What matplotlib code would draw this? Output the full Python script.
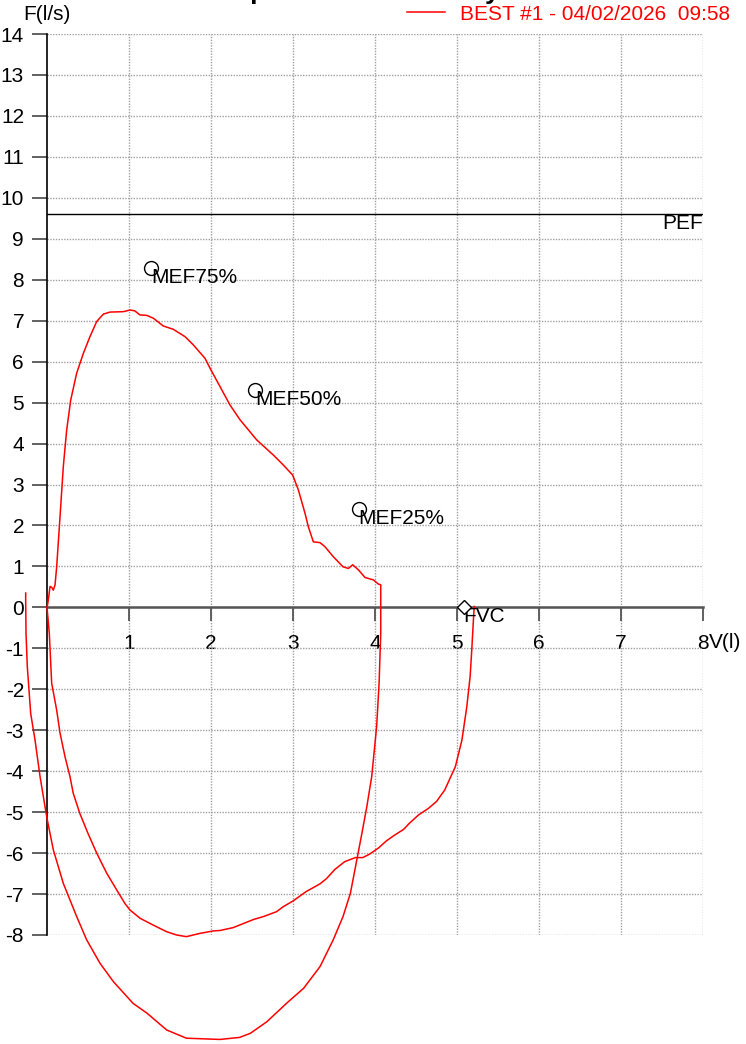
import matplotlib
matplotlib.use('Agg')
import matplotlib.pyplot as plt

plt.rcParams['font.family'] = ['Liberation Sans', 'DejaVu Sans']
plt.rcParams['axes.unicode_minus'] = False

# best manoeuvre: expiration then inspiration (volume l, flow l/s)
loop_vol = [0.0, 0.016, 0.037, 0.057, 0.077, 0.098, 0.118, 0.159, 0.199, 0.24, 0.289, 0.362,
            0.443, 0.524, 0.606, 0.687, 0.768, 0.93, 1.012, 1.07, 1.134, 1.216, 1.297, 1.418,
            1.54, 1.683, 1.784, 1.927, 1.988, 2.11, 2.232, 2.354, 2.557, 2.76, 2.88, 2.996,
            3.065, 3.146, 3.187, 3.248, 3.33, 3.39, 3.49, 3.61, 3.675, 3.728, 3.80, 3.878,
            3.98, 4.04, 4.07,
            4.07, 4.07, 4.05, 4.02, 3.96, 3.90, 3.84, 3.77, 3.70, 3.61, 3.49, 3.33, 3.13,
            2.92, 2.68, 2.48, 2.35, 2.11, 1.70, 1.46, 1.22, 1.05, 0.81, 0.646, 0.484, 0.362,
            0.199, 0.077, -0.004, -0.085, -0.146, -0.199, -0.24, -0.256, -0.26, -0.26]
loop_flow = [-0.02, 0.18, 0.51, 0.49, 0.42, 0.55, 0.99, 2.22, 3.44, 4.33, 5.06, 5.72,
             6.2, 6.61, 6.98, 7.16, 7.21, 7.22, 7.26, 7.24, 7.14, 7.13, 7.06, 6.87,
             6.79, 6.61, 6.41, 6.08, 5.84, 5.39, 4.94, 4.58, 4.09, 3.72, 3.48, 3.23,
             2.87, 2.30, 1.97, 1.60, 1.58, 1.48, 1.24, 0.99, 0.95, 1.04, 0.91, 0.73,
             0.67, 0.57, 0.55,
             0.18, -0.63, -1.85, -2.91, -4.13, -4.87, -5.52, -6.25, -6.98, -7.55, -8.12, -8.77, -9.30,
             -9.67, -10.12, -10.40, -10.50, -10.55, -10.52, -10.32, -9.91, -9.67, -9.14, -8.69, -8.12, -7.55,
             -6.74, -5.92, -5.11, -4.13, -3.24, -2.59, -1.45, -0.63, 0.18, 0.35]

# inspiration before the manoeuvre
pre_vol = [0.0, 0.028, 0.057, 0.118, 0.159, 0.22, 0.28, 0.32, 0.40, 0.50, 0.606, 0.728,
           0.85, 0.95, 1.012, 1.134, 1.297, 1.46, 1.58, 1.70, 1.866, 2.03, 2.11, 2.27,
           2.52, 2.64, 2.80, 2.88, 3.0, 3.16, 3.33, 3.41, 3.51, 3.63, 3.76, 3.85, 3.93,
           4.04, 4.14, 4.24, 4.35, 4.41, 4.53, 4.65, 4.75, 4.85, 4.98, 5.06, 5.12, 5.16,
           5.18, 5.20, 5.21]
pre_flow = [0.0, -0.63, -1.85, -2.51, -3.07, -3.65, -4.13, -4.54, -5.03, -5.52, -6.0, -6.49,
            -6.90, -7.23, -7.39, -7.59, -7.76, -7.92, -8.0, -8.04, -7.96, -7.90, -7.89, -7.82,
            -7.62, -7.55, -7.43, -7.31, -7.17, -6.94, -6.75, -6.62, -6.40, -6.21, -6.11, -6.11, -6.03,
            -5.88, -5.70, -5.56, -5.42, -5.29, -5.07, -4.91, -4.74, -4.46, -3.89, -3.24, -2.42, -1.69,
            -1.04, -0.31, 0.02]

mef_names = ['MEF75%', 'MEF50%', 'MEF25%']
mef_vol = [1.27, 2.54, 3.80]
mef_flow = [8.29, 5.31, 2.40]
fvc = 5.08
pef = 9.61
legend_label = 'BEST #1 - 04/02/2026  09:58'
title_text = 'Flow/Volume plot for the Best Try'

W, H = 746, 1044
fig = plt.figure(figsize=(W / 100, H / 100), dpi=100)
ax = fig.add_axes([47 / W, 1 - 935 / H, 656 / W, 901 / H])
ax.set_xlim(0, 8)
ax.set_ylim(-8, 14)

ax.set_xticks(range(1, 9))
ax.set_xticklabels([str(i) for i in range(1, 9)])
ax.set_yticks(range(-8, 15))
ax.set_yticklabels([str(i) for i in range(-8, 15)])
ax.grid(True, color='#a0a0a0', linestyle=(0, (1, 1)), linewidth=1.0)
ax.set_axisbelow(True)

for s in ['top', 'right']:
    ax.spines[s].set_visible(False)
ax.spines['left'].set_color('black')
ax.spines['left'].set_linewidth(1.2)
ax.spines['bottom'].set_position(('data', 0))
ax.spines['bottom'].set_color('#555555')
ax.spines['bottom'].set_linewidth(1.8)
ax.spines['bottom'].set_zorder(1.5)

ax.tick_params(axis='y', direction='out', length=11, width=1.3, color='#555555', pad=5.5, labelsize=15)
ax.tick_params(axis='x', direction='out', length=10, width=1.3, color='#555555', pad=9, labelsize=15)

ax.axhline(pef, color='black', linewidth=1.0, zorder=2)
ax.text(8, pef, 'PEF', ha='right', va='top', fontsize=15)

ax.plot(loop_vol, loop_flow, color='red', linewidth=1.1, clip_on=False, zorder=3, label=legend_label)
ax.plot(pre_vol, pre_flow, color='red', linewidth=1.1, clip_on=False, zorder=3)

ax.plot(mef_vol, mef_flow, linestyle='none', marker='o', ms=10, mfc='none', mec='black', mew=1.0, zorder=4)
for name, v, f in zip(mef_names, mef_vol, mef_flow):
    ax.text(v, f, name, ha='left', va='top', fontsize=15)
ax.plot([fvc], [0], linestyle='none', marker='D', ms=7, mfc='white', mec='black', mew=1.0, zorder=4, clip_on=False)
ax.text(fvc, 0, 'FVC', ha='left', va='top', fontsize=15)

ax.text(8.07, -0.63, 'V(l)', ha='left', va='top', fontsize=15)
fig.text(23 / W, 1 - 20 / H, 'F(l/s)', ha='left', va='baseline', fontsize=15)

leg = ax.legend(loc='center left', bbox_to_anchor=(407 / W, 1 - 14 / H), bbox_transform=fig.transFigure,
                frameon=False, fontsize=15, labelcolor='red', handlelength=1.8, handletextpad=0.75,
                borderpad=0, borderaxespad=0)

# title sits above the top edge, only its descenders show; put the "p" near x=250 px
r = fig.canvas.get_renderer()
probe = fig.text(0, 0, title_text[:title_text.index('p')], fontsize=19, fontweight='bold')
pre_w = probe.get_window_extent(r).width
probe.remove()
fig.text((250 - pre_w) / W, 1 + 1 / H, title_text, ha='left', va='baseline',
         fontsize=19, fontweight='bold')

fig.savefig('out.png', dpi=100)
